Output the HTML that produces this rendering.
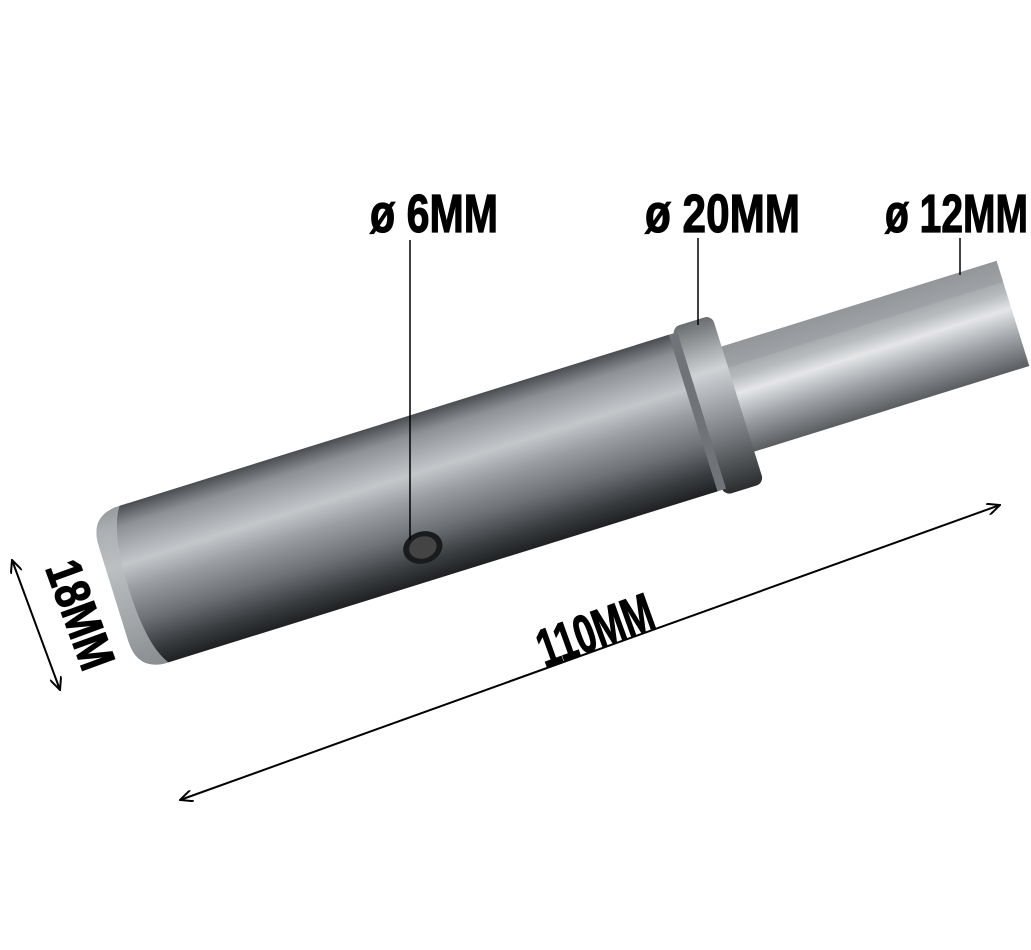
<!DOCTYPE html>
<html><head><meta charset="utf-8"><style>
html,body{margin:0;padding:0;background:#fff;}
svg{display:block;}
text{font-family:"Liberation Sans Narrow","Liberation Sans",sans-serif;font-weight:bold;fill:#000;stroke:#000;stroke-width:1.2;}
</style></head><body>
<svg width="1031" height="950" viewBox="0 0 1031 950" xmlns="http://www.w3.org/2000/svg">
<defs>
<linearGradient id="cyl" x1="0" y1="0" x2="0" y2="1">
<stop offset="0" stop-color="#4a4d50"/>
<stop offset="0.12" stop-color="#8d9196"/>
<stop offset="0.35" stop-color="#c4c7ca"/>
<stop offset="0.5" stop-color="#9a9ea2"/>
<stop offset="0.7" stop-color="#6e7276"/>
<stop offset="0.88" stop-color="#3a3d40"/>
<stop offset="1" stop-color="#1e2022"/>
</linearGradient>
<linearGradient id="col" x1="0" y1="0" x2="0" y2="1">
<stop offset="0" stop-color="#6a6d70"/>
<stop offset="0.3" stop-color="#d0d3d6"/>
<stop offset="0.6" stop-color="#8a8e92"/>
<stop offset="1" stop-color="#2a2c2e"/>
</linearGradient>
<linearGradient id="hex" x1="0" y1="0" x2="0" y2="1">
<stop offset="0" stop-color="#8a8d90"/>
<stop offset="0.3" stop-color="#b8bbbe"/>
<stop offset="0.45" stop-color="#e4e6e8"/>
<stop offset="0.7" stop-color="#a0a4a8"/>
<stop offset="1" stop-color="#5a5d60"/>
</linearGradient>
<marker id="ah" markerWidth="14" markerHeight="12" refX="13" refY="6" orient="auto-start-reverse" markerUnits="userSpaceOnUse">
<path d="M0,0 L13,6 L0,12" fill="none" stroke="#000" stroke-width="2"/>
</marker>
</defs>

<g transform="translate(125,590) rotate(-17.3)">
  <rect x="620" y="-55" width="310" height="110" fill="url(#hex)"/>
  <rect x="620" y="-55" width="310" height="22" fill="#9a9da0" opacity="0.6"/>
  <rect x="600" y="-88" width="42" height="176" rx="8" fill="url(#col)"/>
  <rect x="590" y="-82" width="14" height="164" fill="#707478"/>
  <path d="M20,-82 L595,-82 L595,82 L20,82 Q-12,82 -12,50 L-12,-50 Q-12,-82 20,-82 Z" fill="url(#cyl)"/>
  <path d="M20,-82 Q-12,-82 -12,-50 L-12,50 Q-12,82 20,82 Q4,60 4,0 Q4,-60 20,-82 Z" fill="#b9bcbf" opacity="0.7"/>
  <ellipse cx="297" cy="48" rx="20" ry="16" fill="#1a1b1c"/>
  <ellipse cx="297" cy="48" rx="14" ry="11" fill="#444"/>
</g>

<line x1="410" y1="240" x2="410" y2="540" stroke="#000" stroke-width="1.5"/>
<line x1="698" y1="238" x2="698" y2="325" stroke="#000" stroke-width="1.5"/>
<line x1="960" y1="238" x2="960" y2="275" stroke="#000" stroke-width="1.5"/>

<text x="370" y="232" font-size="54" textLength="128" lengthAdjust="spacingAndGlyphs">ø 6MM</text>
<text x="645" y="232" font-size="54" textLength="155" lengthAdjust="spacingAndGlyphs">ø 20MM</text>
<text x="885" y="232" font-size="54" textLength="143" lengthAdjust="spacingAndGlyphs">ø 12MM</text>

<line x1="180" y1="800" x2="1000" y2="505" stroke="#000" stroke-width="2" marker-start="url(#ah)" marker-end="url(#ah)"/>
<text transform="translate(545,668) rotate(-19.8)" font-size="54" textLength="120" lengthAdjust="spacingAndGlyphs">110MM</text>

<line x1="12" y1="560" x2="60" y2="690" stroke="#000" stroke-width="2" marker-start="url(#ah)" marker-end="url(#ah)"/>
<text transform="translate(45,568) rotate(70)" font-size="50" textLength="112" lengthAdjust="spacingAndGlyphs">18MM</text>
</svg>
</body></html>
